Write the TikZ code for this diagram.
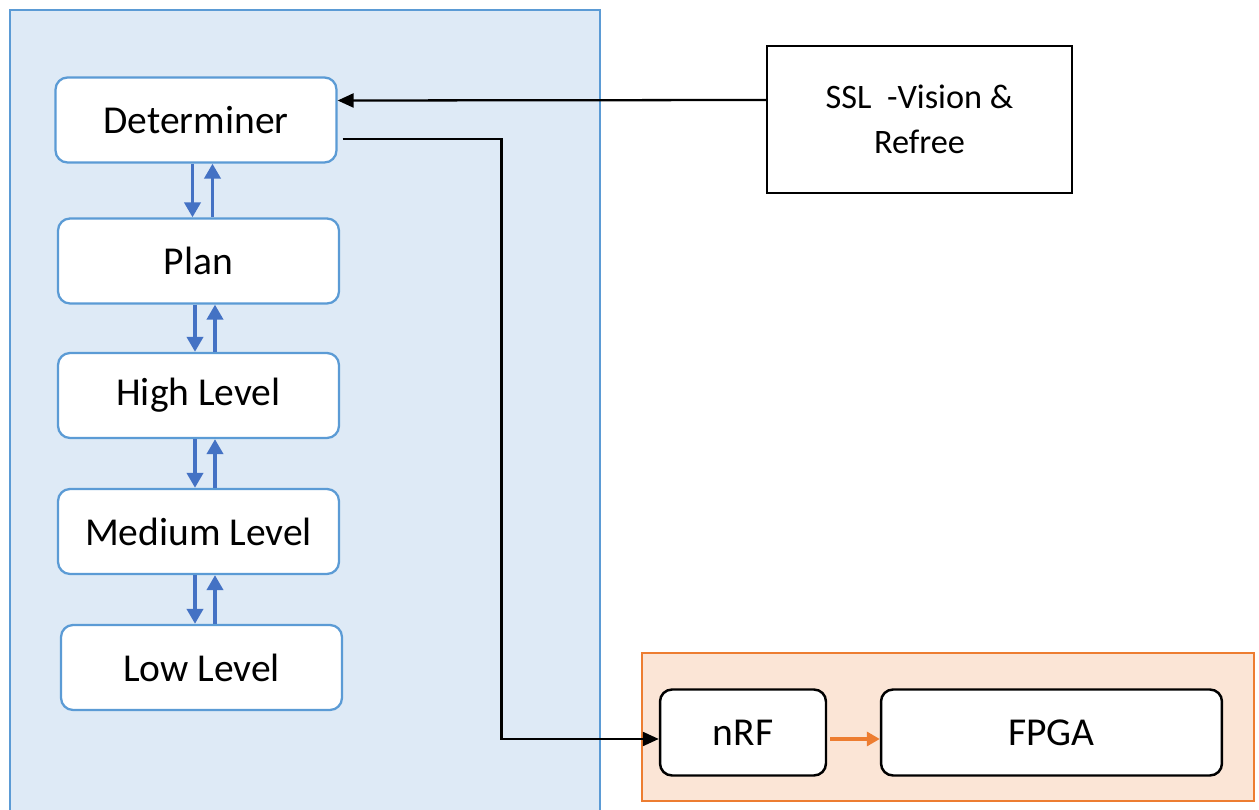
\documentclass[tikz,border=0pt]{standalone}
\usepackage{fontspec}
\setmainfont{Carlito}
\usetikzlibrary{arrows.meta}
\definecolor{paneblue}{HTML}{DEEAF6}
\definecolor{edgeblue}{HTML}{5B9BD5}
\definecolor{arrowblue}{HTML}{4472C4}
\definecolor{paneorange}{HTML}{FBE5D6}
\definecolor{edgeorange}{HTML}{ED7D31}
\tikzset{
  layer/.style={draw=edgeblue, fill=white, line width=1.3pt, rounded corners=0.24cm,
    minimum width=5.62cm, minimum height=1.7cm, inner sep=0pt,
    font=\fontsize{22.5}{27}\selectfont},
  hw/.style={draw=black, fill=white, line width=1.4pt, rounded corners=0.24cm,
    minimum height=1.72cm, inner sep=0pt, font=\fontsize{22.5}{27}\selectfont},
  updown/.style={arrowblue, line width=2.2pt, -{Triangle[length=0.3cm,width=0.32cm]}},
  wire/.style={black, line width=1.3pt, -{Triangle[length=0.32cm,width=0.28cm]}}
}

\begin{document}
\begin{tikzpicture}[x=0.02cm, y=-0.02cm]
\useasboundingbox (0,0) rectangle (1259,810);
%%Panes
\draw[edgeblue, fill=paneblue, line width=1.4pt] (10,10) rectangle (600,815);
\draw[edgeorange, fill=paneorange, line width=1.4pt] (642,653) rectangle (1254,801);
%%Layers
\node[layer] (det) at (196,120) {Determiner};
\node[layer] (plan) at (198.5,261) {Plan};
\node[layer] (high) at (198.5,395.5) {High Level};
\node[layer] (med) at (198.5,531.5) {Medium Level};
\node[layer] (low) at (201.5,667.5) {Low Level};
\foreach \a/\b in {det/plan, plan/high, high/med, med/low} {
  \draw[updown] ([xshift=-0.07cm]\a.south) -- ([xshift=-0.07cm]\a.south |- \b.north);
  \draw[updown] ([xshift=0.33cm]\a.south |- \b.north) -- ([xshift=0.33cm]\a.south);
}
%%Vision
\node[draw=black, fill=white, line width=1.4pt, minimum width=6.1cm, minimum height=2.94cm,
  align=center, font=\fontsize{19.5}{25.5}\selectfont] (ssl) at (919.5,119.5) {SSL~ -Vision \&\\ Refree};
\draw[wire] ([yshift=0.39cm]ssl.west) -- ([yshift=0.39cm]det.east);
%%Hardware
\node[hw, minimum width=3.32cm] (nrf) at (743,732.5) {nRF};
\node[hw, minimum width=6.82cm] (fpga) at (1051.5,732.5) {FPGA};
\draw[edgeorange, line width=2.2pt, -{Triangle[length=0.26cm,width=0.28cm]}]
  ([yshift=-0.13cm, xshift=0.06cm]nrf.east) -- ([yshift=-0.13cm]fpga.west);
\draw[wire] ([yshift=-0.38cm, xshift=0.1cm]det.east) -- ++(159,0) |- ([yshift=-0.13cm]nrf.west);
\end{tikzpicture}
\end{document}
